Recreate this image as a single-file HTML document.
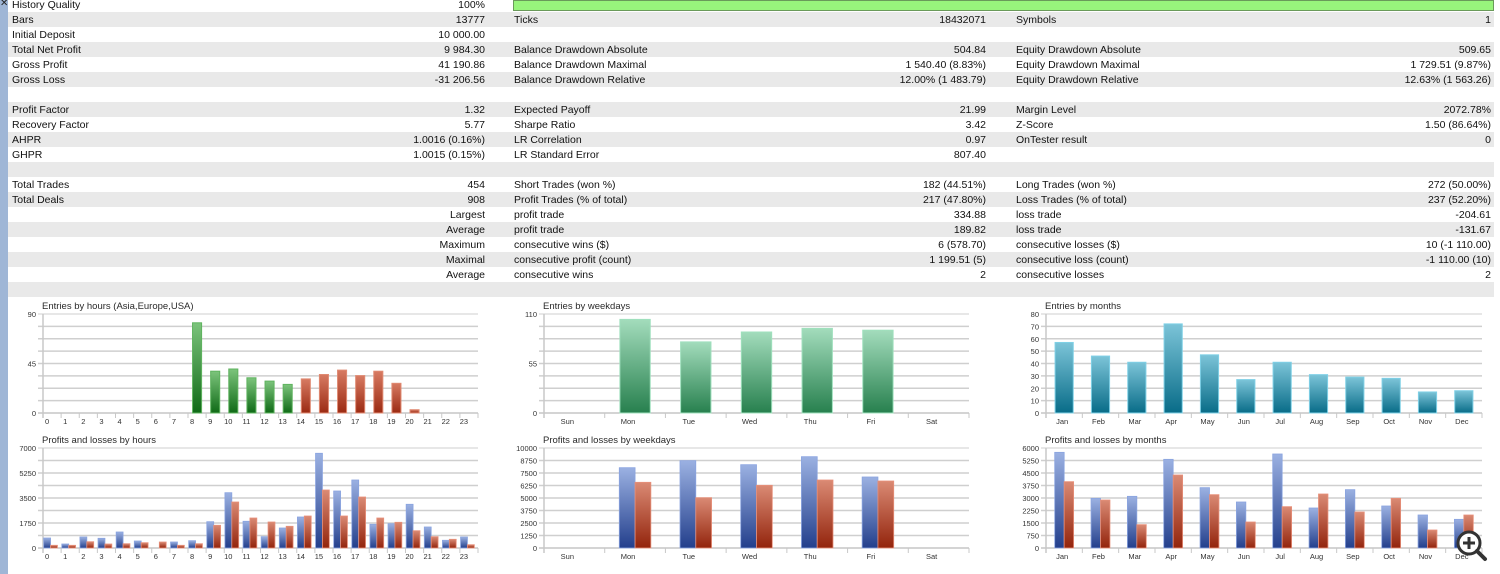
<!DOCTYPE html>
<html><head><meta charset="utf-8">
<style>
html,body{margin:0;padding:0;background:#fff;width:1500px;height:574px;overflow:hidden;font-family:"Liberation Sans",sans-serif;}
#strip{position:absolute;left:0;top:0;width:8px;height:574px;background:#9fb6d6;}
#closex{position:absolute;left:0;top:-2px;font-size:10px;color:#222;}
.row{position:absolute;left:8px;width:1486px;height:15px;}
.g{background:#e9e9e9;}
.t{position:absolute;top:2px;font-size:10.5px;color:#111;white-space:nowrap;line-height:13px;}
#hq{position:absolute;left:513px;top:0;width:979px;height:9px;background:#98f47c;border:1px solid #6a9a5a;}
svg{position:absolute;left:0;top:0;}
</style></head>
<body>
<div id="strip"></div>
<div id="closex">✕</div>
<div id="table"></div>
<div id="hq"></div>
<svg id="charts" width="1500" height="574"></svg>
<script>
const rows=[
["History Quality","100%","","","",""],
["Bars","13777","Ticks","18432071","Symbols","1"],
["Initial Deposit","10 000.00","","","",""],
["Total Net Profit","9 984.30","Balance Drawdown Absolute","504.84","Equity Drawdown Absolute","509.65"],
["Gross Profit","41 190.86","Balance Drawdown Maximal","1 540.40 (8.83%)","Equity Drawdown Maximal","1 729.51 (9.87%)"],
["Gross Loss","-31 206.56","Balance Drawdown Relative","12.00% (1 483.79)","Equity Drawdown Relative","12.63% (1 563.26)"],
["","","","","",""],
["Profit Factor","1.32","Expected Payoff","21.99","Margin Level","2072.78%"],
["Recovery Factor","5.77","Sharpe Ratio","3.42","Z-Score","1.50 (86.64%)"],
["AHPR","1.0016 (0.16%)","LR Correlation","0.97","OnTester result","0"],
["GHPR","1.0015 (0.15%)","LR Standard Error","807.40","",""],
["","","","","",""],
["Total Trades","454","Short Trades (won %)","182 (44.51%)","Long Trades (won %)","272 (50.00%)"],
["Total Deals","908","Profit Trades (% of total)","217 (47.80%)","Loss Trades (% of total)","237 (52.20%)"],
["","Largest","profit trade","334.88","loss trade","-204.61"],
["","Average","profit trade","189.82","loss trade","-131.67"],
["","Maximum","consecutive wins ($)","6 (578.70)","consecutive losses ($)","10 (-1 110.00)"],
["","Maximal","consecutive profit (count)","1 199.51 (5)","consecutive loss (count)","-1 110.00 (10)"],
["","Average","consecutive wins","2","consecutive losses","2"],
["","","","","",""]
];
const tbl=document.getElementById('table');
rows.forEach((r,k)=>{
  const d=document.createElement('div');
  d.className='row'+(k%2?' g':'');
  d.style.top=(-3.5+15*k)+'px';
  
  
  const cells=[[4,null,r[0]],[null,485,r[1]],[506,null,r[2]],[null,986,r[3]],[1008,null,r[4]],[null,1491,r[5]]];
  cells.forEach(c=>{
    if(!c[2])return;
    const s=document.createElement('span');
    s.className='t';
    
    
    if(c[0]!==null)s.style.left=c[0]+'px';else{s.style.right=(1494-c[1])+'px';}
    s.textContent=c[2];
    d.appendChild(s);
  });
  tbl.appendChild(d);
});
</script>
<script>
// ---- chart data ----
const hourCats=["0","1","2","3","4","5","6","7","8","9","10","11","12","13","14","15","16","17","18","19","20","21","22","23"];
const hourEntries=[0,0,0,0,0,0,0,0,82,38,40,32,29,26,31,35,39,34,38,27,3,0,0,0];
const hourEntryColor=["g","g","g","g","g","g","g","g","g","g","g","g","g","g","r","r","r","r","r","r","r","r","r","r"];
const hourProfits=[700,280,770,680,1120,490,0,420,510,1840,3870,1870,790,1400,2170,6630,3990,4760,1660,1700,3060,1470,540,770];
const hourLosses=[190,190,440,280,300,370,420,190,300,1590,3220,2100,1820,1520,2240,4060,2240,3570,2100,1800,1210,790,610,230];
const dayCats=["Sun","Mon","Tue","Wed","Thu","Fri","Sat"];
const dayEntries=[0,104,79,90,94,92,0];
const dayProfits=[0,8030,8730,8330,9130,7100,0];
const dayLosses=[0,6570,5030,6270,6800,6700,0];
const monCats=["Jan","Feb","Mar","Apr","May","Jun","Jul","Aug","Sep","Oct","Nov","Dec"];
const monEntries=[57,46,41,72,47,27,41,31,29,28,17,18];
const monProfits=[5740,2980,3100,5320,3620,2760,5640,2400,3500,2520,1980,1720];
const monLosses=[3980,2880,1400,4380,3200,1560,2480,3240,2160,2980,1080,1980];
const hourTicksTop=["0","45","90"], hourTicksBot=["0","1750","3500","5250","7000"];
const dayTicksTop=["0","55","110"], dayTicksBot=["0","1250","2500","3750","5000","6250","7500","8750","10000"];
const monTicksTop=["0","10","20","30","40","50","60","70","80"], monTicksBot=["0","750","1500","2250","3000","3750","4500","5250","6000"];

const NS="http://www.w3.org/2000/svg";
const svg=document.getElementById('charts');
function el(tag,attrs,parent){const e=document.createElementNS(NS,tag);for(const k in attrs)e.setAttribute(k,attrs[k]);(parent||svg).appendChild(e);return e;}
const defs=el('defs',{});
function grad(id,top,bot){const g=el('linearGradient',{id:id,x1:0,y1:0,x2:0,y2:1},defs);el('stop',{offset:'0','stop-color':top},g);el('stop',{offset:'1','stop-color':bot},g);}
grad('gG','#7cc47c','#0f6a16');grad('gR','#d77a62','#9b2a12');
grad('gW','#a3dcbc','#27804e');grad('gT','#7cc4d8','#086c88');
grad('gB','#9bb1e2','#233f8c');grad('gL','#da8a74','#93240c');

function chart(o){
  const g=el('g',{});
  
  
  const L=o.left,R=o.right,T=o.top,B=o.bottom,H=B-T;
  const y=v=>B-v/o.max*H;
  const n=o.cats.length, slot=(R-L)/n;
  const sx=i=>L+slot*i;
  for(let i=0;i<=8;i++){const yy=T+H*i/8;
    const ln=el('line',{x1:L-5,x2:R,y1:yy,y2:yy,stroke:i==8?'#a8a8a8':'#cfcfcf','stroke-width':i==0||i==8?1:1.6},g);
    }
  el('line',{x1:L,x2:L,y1:T,y2:B+5,stroke:'#c8c8c8','stroke-width':1.5},g);
  o.ticks.forEach(t=>{const tx=el('text',{x:L-7,y:y(+t)+3,'text-anchor':'end','font-size':'7.5',fill:'#333'},g);tx.textContent=t;
    });
  const ti=el('text',{x:L-1,y:T-5,'font-size':'9.5',fill:'#2a2a2a'},g);ti.textContent=o.title;
  
  o.cats.forEach((c,i)=>{
    el('line',{x1:sx(i+1),x2:sx(i+1),y1:B,y2:B+5,stroke:'#c8c8c8'},g);
    const tx=el('text',{x:sx(i)+slot/2-o.ldx,y:B+11,'text-anchor':'middle','font-size':'7.5',fill:'#333'},g);tx.textContent=c;
    
  });
  if(o.single){
    o.single.forEach((v,i)=>{if(!v)return;const w=slot*0.5;
      const f=o.colors?(o.colors[i]=='g'?'gG':'gR'):o.fill;
      const st=o.colors?(o.colors[i]=='g'?'#5fb35f':'#e08a72'):o.stroke;
      const r=el('rect',{x:sx(i)+slot/2-w/2,y:y(v),width:w,height:B-y(v),fill:'url(#'+f+')',stroke:st,'stroke-width':1},g);
      });
  } else {
    const w=slot*o.bw;
    o.cats.forEach((c,i)=>{const cx=sx(i)+slot/2-o.pdx;
      const a=o.p[i],b=o.l[i];
      if(a){const r=el('rect',{x:cx-w,y:y(a),width:w,height:B-y(a),fill:'url(#gB)',stroke:'#8aa4e0','stroke-width':0.8},g);
        }
      if(b){const r=el('rect',{x:cx,y:y(b),width:w,height:B-y(b),fill:'url(#gL)',stroke:'#e8907a','stroke-width':0.8},g);
        }
    });
  }
}
chart({name:'entries-by-hours',title:'Entries by hours (Asia,Europe,USA)',left:43,right:478,top:314,bottom:413,cats:hourCats,max:90,ticks:hourTicksTop,single:hourEntries,colors:hourEntryColor,ldx:5});
chart({name:'profits-by-hours',title:'Profits and losses by hours',left:43,right:478,top:448,bottom:548,cats:hourCats,max:7000,ticks:hourTicksBot,p:hourProfits,l:hourLosses,bw:0.38,pdx:1.5,ldx:5});
chart({name:'entries-by-weekdays',title:'Entries by weekdays',left:544,right:969,top:314,bottom:413,cats:dayCats,max:110,ticks:dayTicksTop,single:dayEntries,fill:'gW',stroke:'#9fe0bd',ldx:7});
chart({name:'profits-by-weekdays',title:'Profits and losses by weekdays',left:544,right:969,top:448,bottom:548,cats:dayCats,max:10000,ticks:dayTicksBot,p:dayProfits,l:dayLosses,bw:0.26,pdx:0,ldx:7});
chart({name:'entries-by-months',title:'Entries by months',left:1046,right:1482,top:314,bottom:413,cats:monCats,max:80,ticks:monTicksTop,single:monEntries,fill:'gT',stroke:'#7fd0e6',ldx:2});
chart({name:'profits-by-months',title:'Profits and losses by months',left:1046,right:1482,top:448,bottom:548,cats:monCats,max:6000,ticks:monTicksBot,p:monProfits,l:monLosses,bw:0.26,pdx:0,ldx:2});
const zg=el('g',{});


el('circle',{cx:1469,cy:543,r:11,fill:'#fff',stroke:'#333','stroke-width':3},zg);
el('line',{x1:1477,y1:551,x2:1485,y2:559,stroke:'#333','stroke-width':4,'stroke-linecap':'round'},zg);
el('line',{x1:1463,y1:543,x2:1475,y2:543,stroke:'#333','stroke-width':3},zg);
el('line',{x1:1469,y1:537,x2:1469,y2:549,stroke:'#333','stroke-width':3},zg);
</script>
</body></html>
